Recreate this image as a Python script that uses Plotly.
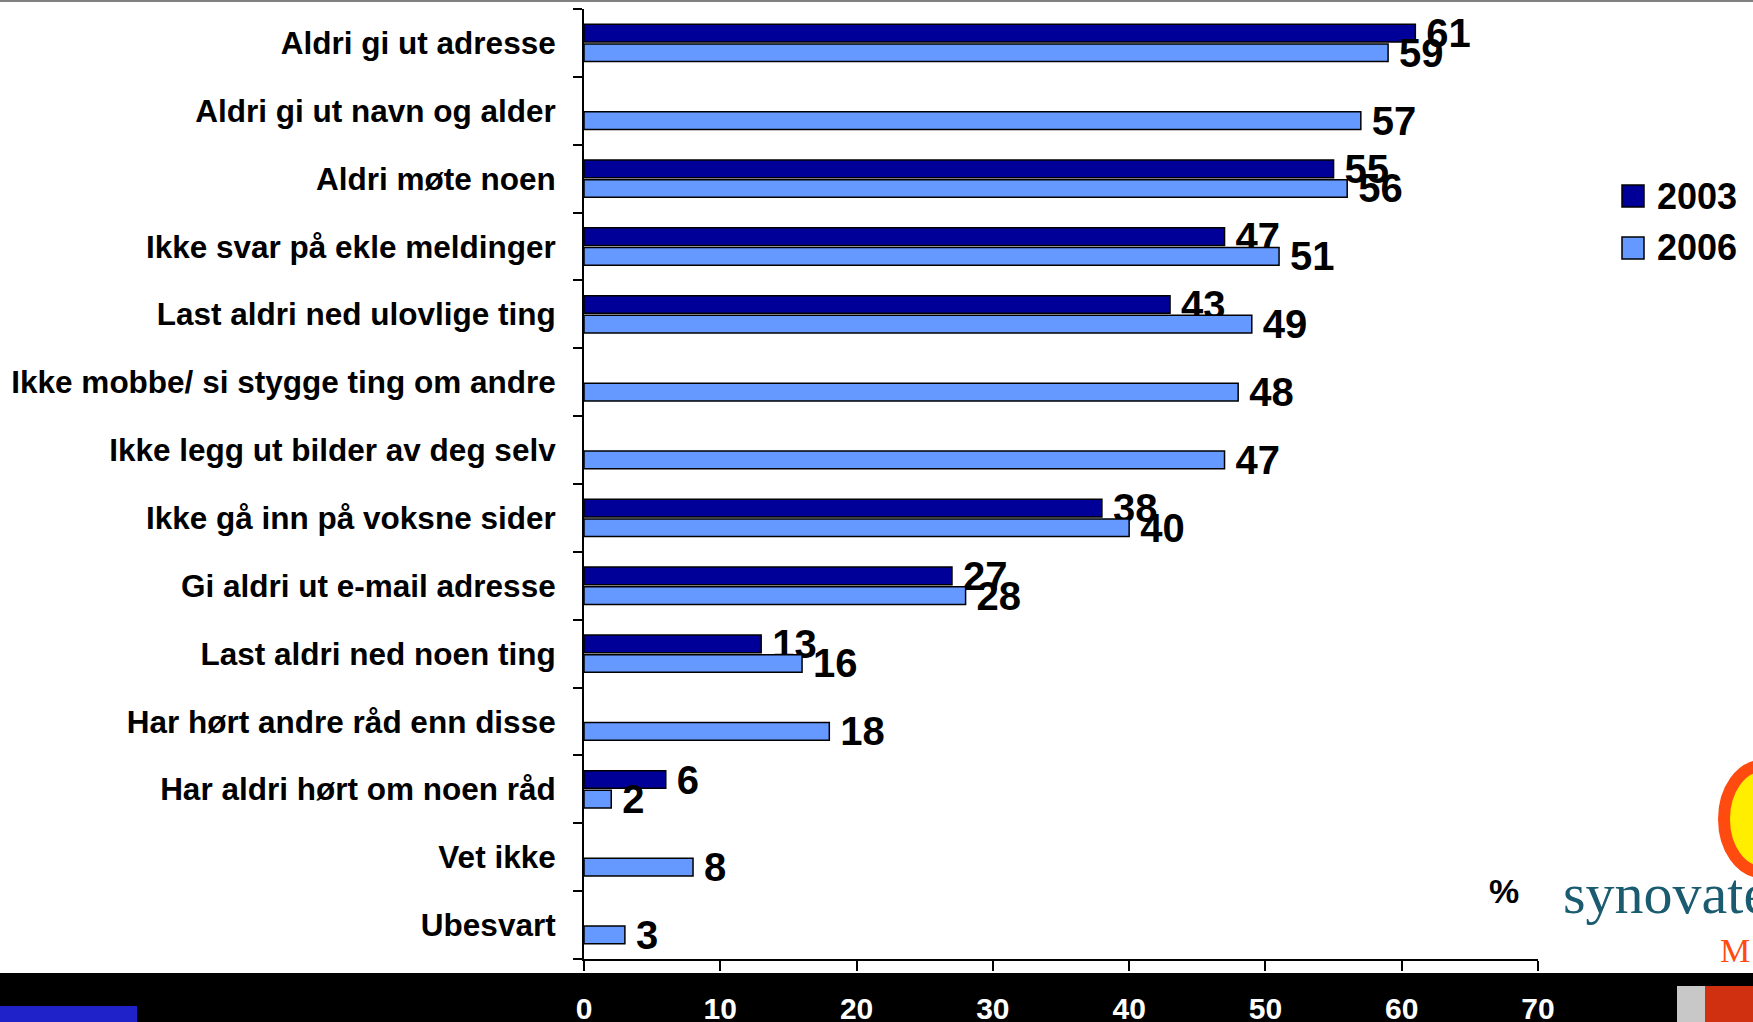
import plotly.graph_objects as go

categories = [
    "Aldri gi ut adresse",
    "Aldri gi ut navn og alder",
    "Aldri møte noen",
    "Ikke svar på ekle meldinger",
    "Last aldri ned ulovlige ting",
    "Ikke mobbe/ si stygge ting om andre",
    "Ikke legg ut bilder av deg selv",
    "Ikke gå inn på voksne sider",
    "Gi aldri ut e-mail adresse",
    "Last aldri ned noen ting",
    "Har hørt andre råd enn disse",
    "Har aldri hørt om noen råd",
    "Vet ikke",
    "Ubesvart",
]
values_2003 = [61, None, 55, 47, 43, None, None, 38, 27, 13, None, 6, None, None]
values_2006 = [59, 57, 56, 51, 49, 48, 47, 40, 28, 16, 18, 2, 8, 3]
series_names = ["2003", "2006"]
series_colors = ["#000099", "#6699FF"]
x_ticks = [0, 10, 20, 30, 40, 50, 60, 70]

W, H = 1753, 1022
L, R, T, B = 584, 215, 9, 63
pw, ph = W - L - R, H - T - B

def px(x):
    return (x - L) / pw

def py(y):
    return (H - B - y) / ph

label_font = dict(family="Liberation Sans, Arial", size=40, color="black", weight="bold")

fig = go.Figure()
for name, vals, col in zip(series_names, [values_2003, values_2006], series_colors):
    fig.add_trace(go.Bar(
        name=name, y=categories, x=vals, orientation="h",
        marker=dict(color=col, line=dict(color="black", width=1.5)),
        text=["" if v is None else "\u2009" + str(v) for v in vals],
        textposition="outside", textfont=label_font, cliponaxis=False,
        constraintext="none", showlegend=False,
    ))

shapes = [
    dict(type="rect", xref="paper", yref="paper", x0=px(0), x1=px(W), y0=py(973), y1=py(H),
         fillcolor="black", line=dict(width=0), layer="below"),
    dict(type="line", xref="paper", yref="paper", x0=px(0), x1=px(W), y0=py(1), y1=py(1),
         line=dict(color="#808080", width=2), layer="below"),
    dict(type="rect", xref="paper", yref="paper", x0=px(0), x1=px(137), y0=py(1006), y1=py(H),
         fillcolor="#1e22c8", line=dict(width=0), layer="below"),
    dict(type="rect", xref="paper", yref="paper", x0=px(1677), x1=px(1705), y0=py(986), y1=py(H),
         fillcolor="#c8c8c8", line=dict(width=0), layer="below"),
    dict(type="rect", xref="paper", yref="paper", x0=px(1705), x1=px(W), y0=py(986), y1=py(H),
         fillcolor="#d03010", line=dict(width=0), layer="below"),
    dict(type="circle", xref="paper", yref="paper", x0=px(1724), x1=px(1800), y0=py(766), y1=py(872),
         fillcolor="#ffee00", line=dict(color="#ff4a10", width=12), layer="below"),
]
legend_y = [196, 248]
for name, col, yc in zip(series_names, series_colors, legend_y):
    shapes.append(dict(type="rect", xref="paper", yref="paper",
                       x0=px(1622), x1=px(1644), y0=py(yc - 11), y1=py(yc + 11),
                       fillcolor=col, line=dict(color="black", width=1.5)))

annotations = [
    dict(text="<b>%</b>", xref="paper", yref="paper", x=px(1504), y=py(891),
         xanchor="center", yanchor="middle",
         showarrow=False, font=dict(family="Liberation Sans, Arial", size=34, color="black")),
    dict(text="synovate", xref="paper", yref="paper", x=px(1561), y=py(893),
         xanchor="left", yanchor="middle", showarrow=False,
         font=dict(family="Liberation Serif, DejaVu Serif", size=58, color="#1b5b70")),
    dict(text="M", xref="paper", yref="paper", x=px(1718), y=py(950),
         xanchor="left", yanchor="middle", showarrow=False,
         font=dict(family="Liberation Serif, DejaVu Serif", size=34, color="#ff4a10")),
]
for name, yc in zip(series_names, legend_y):
    annotations.append(dict(text=f"<b>{name}</b>", xref="paper", yref="paper",
                            x=px(1655), y=py(yc), xanchor="left", yanchor="middle",
                            showarrow=False,
                            font=dict(family="Liberation Sans, Arial", size=36, color="black")))

fig.update_layout(
    width=W, height=H,
    margin=dict(l=L, r=R, t=T, b=B, pad=0, autoexpand=False),
    paper_bgcolor="white", plot_bgcolor="white",
    barmode="group", bargap=0.42, bargroupgap=0.1,
    showlegend=False,
    shapes=shapes, annotations=annotations,
    font=dict(family="Liberation Sans, Arial"),
)
fig.update_xaxes(
    range=[0, 70], tickvals=x_ticks, ticktext=[f"<b>{v}</b>" for v in x_ticks],
    showgrid=False, zeroline=False, automargin=False,
    showline=True, linecolor="black", linewidth=2,
    ticks="outside", ticklen=10, tickcolor="black", tickwidth=1.5,
    tickfont=dict(family="Liberation Sans, Arial", size=30, color="white"),
    ticklabelstandoff=12,
)
fig.update_yaxes(
    autorange=False, range=[len(categories) - 0.5, -0.5],
    type="category", categoryorder="array", categoryarray=categories,
    tickvals=categories, ticktext=[f"<b>{c}</b>" for c in categories],
    showgrid=False, zeroline=False, automargin=False,
    showline=True, linecolor="black", linewidth=2,
    ticks="outside", tickson="boundaries", ticklen=9, tickcolor="black", tickwidth=1.5,
    tickfont=dict(family="Liberation Sans, Arial", size=31.5, color="black"),
    ticklabelstandoff=20,
)

fig.write_html("out.html", config={"displayModeBar": False},
               post_script="document.body.style.margin='0px';document.body.style.overflow='hidden';")
